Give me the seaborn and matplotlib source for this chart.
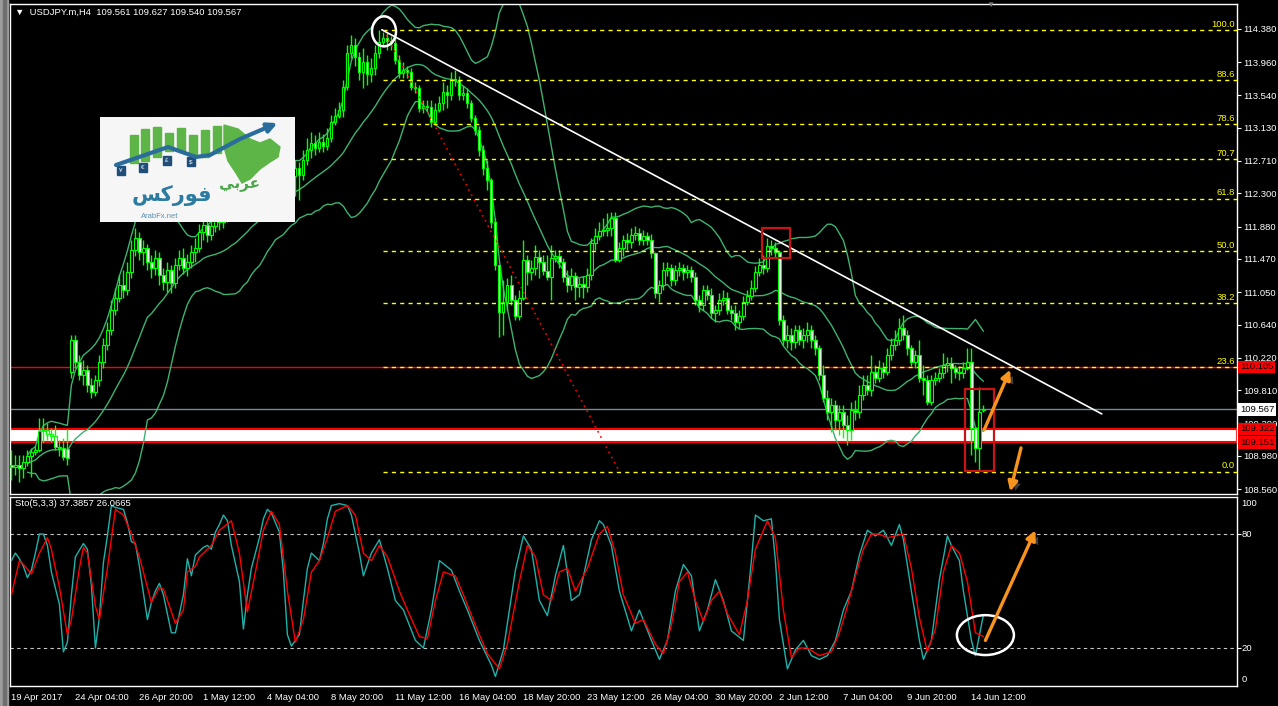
import numpy as np
import pandas as pd
import matplotlib
matplotlib.use("Agg")
import matplotlib.pyplot as plt
import matplotlib.patheffects as pe
import seaborn as sns
from matplotlib.patches import Rectangle, Ellipse, Polygon

# ---- USDJPY.m H4 candles (bar 0 = 19 Apr 2017) ----
open_ = [
    108.86, 108.84, 108.86, 108.83, 108.90, 108.98, 109.03, 109.05, 109.30, 109.31,
    109.26, 109.23, 109.09, 109.08, 109.06, 110.04, 110.44, 110.17, 110.00, 110.07,
    109.88, 109.79, 109.94, 110.17, 110.38, 110.57, 110.82, 110.98, 111.14, 111.08,
    111.31, 111.58, 111.74, 111.56, 111.61, 111.43, 111.36, 111.48, 111.27, 111.18,
    111.33, 111.17, 111.39, 111.48, 111.36, 111.43, 111.56, 111.61, 111.81, 111.90,
    111.77, 111.89, 111.99, 111.94, 112.07, 112.03, 112.15, 112.09, 112.22, 112.15,
    112.27, 112.34, 112.24, 112.37, 112.47, 112.39, 112.50, 112.44, 112.55, 112.47,
    112.60, 112.52, 112.62, 112.53, 112.72, 112.85, 112.94, 112.87, 112.95, 112.90,
    113.00, 113.20, 113.28, 113.36, 113.65, 114.08, 114.18, 114.03, 113.84, 113.96,
    113.81, 113.89, 114.08, 114.22, 114.27, 114.23, 114.20, 113.99, 113.82, 113.86,
    113.84, 113.65, 113.63, 113.38, 113.41, 113.39, 113.20, 113.36, 113.44, 113.58,
    113.55, 113.75, 113.73, 113.55, 113.57, 113.44, 113.25, 113.10, 112.85, 112.62,
    112.47, 111.94, 111.39, 110.80, 110.93, 111.14, 110.95, 110.75, 110.98, 111.46,
    111.31, 111.36, 111.50, 111.43, 111.32, 111.24, 111.48, 111.51, 111.43, 111.24,
    111.14, 111.25, 111.12, 111.15, 111.12, 111.27, 111.67, 111.76, 111.82, 111.84,
    111.86, 111.99, 111.46, 111.61, 111.71, 111.69, 111.77, 111.80, 111.71, 111.76,
    111.71, 111.55, 111.04, 111.14, 111.33, 111.36, 111.20, 111.33, 111.36, 111.31,
    111.33, 111.24, 110.95, 110.89, 111.08, 111.01, 110.79, 110.82, 110.95, 110.98,
    110.82, 110.79, 110.67, 110.75, 110.93, 111.00, 111.10, 111.31, 111.39, 111.36,
    111.63, 111.61, 111.56, 110.70, 110.44, 110.51, 110.42, 110.57, 110.44, 110.51,
    110.57, 110.44, 110.34, 110.00, 109.71, 109.53, 109.62, 109.43, 109.53, 109.37,
    109.31, 109.56, 109.53, 109.75, 109.88, 109.81, 110.04, 109.96, 110.09, 110.04,
    110.25, 110.38, 110.44, 110.60, 110.51, 110.34, 110.17, 110.25, 109.96, 109.94,
    109.66, 109.94, 109.96, 110.03, 110.13, 110.15, 110.09, 110.04, 110.03, 110.09,
    110.17, 109.33, 109.08, 109.561,
]
high = [
    109.05, 108.99, 108.99, 108.99, 109.05, 109.08, 109.10, 109.46, 109.46, 109.40,
    109.33, 109.37, 109.18, 109.21, 109.32, 110.51, 110.51, 110.25, 110.19, 110.13,
    109.96, 110.00, 110.25, 110.47, 110.67, 110.95, 111.10, 111.27, 111.33, 111.43,
    111.71, 111.86, 111.81, 111.71, 111.66, 111.52, 111.58, 111.56, 111.36, 111.43,
    111.39, 111.48, 111.58, 111.61, 111.53, 111.65, 111.74, 111.91, 112.03, 111.99,
    112.03, 112.12, 112.09, 112.15, 112.18, 112.24, 112.24, 112.32, 112.29, 112.37,
    112.47, 112.42, 112.50, 112.60, 112.57, 112.62, 112.60, 112.66, 112.66, 112.72,
    112.70, 112.72, 112.70, 112.85, 113.00, 113.08, 113.04, 113.08, 113.05, 113.13,
    113.29, 113.38, 113.46, 113.73, 114.18, 114.30, 114.27, 114.09, 114.14, 114.05,
    114.01, 114.18, 114.37, 114.34, 114.33, 114.29, 114.27, 114.05, 113.96, 113.91,
    113.89, 113.71, 113.67, 113.48, 113.48, 113.48, 113.44, 113.53, 113.71, 113.67,
    113.84, 113.86, 113.79, 113.66, 113.63, 113.48, 113.29, 113.15, 112.91, 112.72,
    112.50, 111.99, 111.39, 111.20, 111.23, 111.27, 111.01, 111.08, 111.71, 111.52,
    111.46, 111.65, 111.58, 111.52, 111.52, 111.65, 111.58, 111.58, 111.48, 111.33,
    111.36, 111.31, 111.23, 111.25, 111.36, 111.74, 111.86, 111.94, 111.99, 112.05,
    112.07, 112.07, 111.69, 111.77, 111.80, 111.86, 111.89, 111.86, 111.84, 111.81,
    111.79, 111.56, 111.20, 111.43, 111.43, 111.41, 111.39, 111.43, 111.41, 111.39,
    111.38, 111.31, 111.01, 111.14, 111.14, 111.10, 110.89, 111.04, 111.08, 111.05,
    110.89, 110.89, 110.82, 111.00, 111.08, 111.20, 111.38, 111.48, 111.52, 111.74,
    111.71, 111.69, 111.58, 110.76, 110.63, 110.60, 110.63, 110.63, 110.60, 110.67,
    110.63, 110.51, 110.38, 110.13, 109.81, 109.71, 109.69, 109.62, 109.62, 109.50,
    109.66, 109.69, 109.88, 110.00, 110.00, 110.25, 110.13, 110.19, 110.17, 110.34,
    110.47, 110.57, 110.72, 110.76, 110.57, 110.38, 110.32, 110.44, 110.13, 110.00,
    110.00, 110.04, 110.09, 110.28, 110.23, 110.23, 110.13, 110.12, 110.17, 110.34,
    110.34, 109.35, 109.85, 109.627,
]
low = [
    108.67, 108.74, 108.65, 108.70, 108.85, 108.71, 108.99, 109.03, 109.14, 109.18,
    109.16, 109.05, 108.98, 108.93, 108.86, 109.96, 110.09, 109.94, 109.88, 109.79,
    109.71, 109.74, 109.86, 110.09, 110.32, 110.51, 110.76, 110.93, 110.98, 111.01,
    111.23, 111.51, 111.46, 111.39, 111.33, 111.23, 111.27, 111.14, 111.08, 111.05,
    111.04, 111.10, 111.33, 111.28, 111.25, 111.36, 111.43, 111.56, 111.71, 111.69,
    111.71, 111.81, 111.84, 111.86, 111.94, 111.96, 112.01, 112.03, 112.07, 112.09,
    112.19, 112.15, 112.17, 112.29, 112.28, 112.32, 112.34, 112.37, 112.39, 112.39,
    112.44, 112.27, 112.22, 112.47, 112.66, 112.75, 112.79, 112.82, 112.82, 112.85,
    112.95, 113.17, 113.25, 113.27, 113.61, 114.01, 113.91, 113.73, 113.63, 113.67,
    113.71, 113.80, 114.01, 114.17, 114.11, 114.11, 113.94, 113.76, 113.76, 113.76,
    113.61, 113.57, 113.33, 113.32, 113.33, 113.14, 113.18, 113.33, 113.36, 113.38,
    113.48, 113.66, 113.48, 113.48, 113.38, 113.20, 113.04, 112.77, 112.53, 112.34,
    111.86, 111.33, 110.48, 110.51, 110.82, 110.89, 110.70, 110.70, 110.95, 111.14,
    111.20, 111.27, 111.23, 111.27, 111.20, 110.95, 111.43, 111.36, 111.18, 111.05,
    111.08, 110.95, 110.99, 110.98, 111.05, 111.20, 111.58, 111.71, 111.76, 111.76,
    111.76, 111.43, 111.43, 111.51, 111.58, 111.61, 111.71, 111.65, 111.65, 111.65,
    111.48, 110.98, 110.93, 111.08, 111.25, 111.13, 111.14, 111.25, 111.20, 111.23,
    111.18, 110.89, 110.80, 110.82, 110.95, 110.72, 110.67, 110.76, 110.89, 110.77,
    110.70, 110.57, 110.60, 110.70, 110.89, 110.95, 111.05, 111.25, 111.28, 111.31,
    111.52, 111.48, 110.63, 110.38, 110.34, 110.32, 110.34, 110.38, 110.34, 110.42,
    110.34, 110.25, 109.94, 109.66, 109.43, 109.28, 109.31, 109.24, 109.21, 109.12,
    109.18, 109.43, 109.46, 109.69, 109.75, 109.74, 109.90, 109.92, 109.96, 110.00,
    110.19, 110.32, 110.38, 110.44, 110.25, 110.12, 110.09, 109.92, 109.75, 109.62,
    109.62, 109.88, 109.92, 109.96, 110.04, 109.90, 109.96, 109.94, 109.96, 110.07,
    108.99, 108.90, 108.80, 109.540,
]
close = [
    108.84, 108.86, 108.83, 108.90, 108.98, 109.03, 109.05, 109.30, 109.31, 109.26,
    109.23, 109.09, 109.08, 108.97, 108.95, 110.44, 110.17, 110.00, 110.07, 109.88,
    109.79, 109.94, 110.17, 110.38, 110.57, 110.82, 110.98, 111.14, 111.08, 111.31,
    111.58, 111.74, 111.56, 111.61, 111.43, 111.36, 111.48, 111.27, 111.18, 111.33,
    111.17, 111.39, 111.48, 111.36, 111.43, 111.56, 111.61, 111.81, 111.90, 111.77,
    111.89, 111.99, 111.94, 112.07, 112.03, 112.15, 112.09, 112.22, 112.15, 112.27,
    112.34, 112.24, 112.37, 112.47, 112.39, 112.50, 112.44, 112.55, 112.47, 112.60,
    112.52, 112.62, 112.53, 112.72, 112.85, 112.94, 112.87, 112.95, 112.90, 113.00,
    113.20, 113.28, 113.36, 113.65, 114.08, 114.18, 114.03, 113.84, 113.96, 113.81,
    113.89, 114.08, 114.22, 114.27, 114.23, 114.20, 113.99, 113.82, 113.86, 113.84,
    113.65, 113.63, 113.38, 113.41, 113.39, 113.20, 113.36, 113.44, 113.58, 113.55,
    113.75, 113.73, 113.55, 113.57, 113.44, 113.25, 113.10, 112.85, 112.62, 112.47,
    111.94, 111.39, 110.80, 110.93, 111.14, 110.95, 110.75, 110.98, 111.46, 111.31,
    111.36, 111.50, 111.43, 111.32, 111.24, 111.48, 111.51, 111.43, 111.24, 111.14,
    111.25, 111.12, 111.15, 111.12, 111.27, 111.67, 111.76, 111.82, 111.84, 111.86,
    111.99, 111.46, 111.61, 111.71, 111.69, 111.77, 111.80, 111.71, 111.76, 111.71,
    111.55, 111.04, 111.14, 111.33, 111.36, 111.20, 111.33, 111.36, 111.31, 111.33,
    111.24, 110.95, 110.89, 111.08, 111.01, 110.79, 110.82, 110.95, 110.98, 110.82,
    110.79, 110.67, 110.75, 110.93, 111.00, 111.10, 111.31, 111.39, 111.36, 111.63,
    111.61, 111.56, 110.70, 110.44, 110.51, 110.42, 110.57, 110.44, 110.51, 110.57,
    110.44, 110.34, 110.00, 109.71, 109.53, 109.62, 109.43, 109.53, 109.37, 109.31,
    109.56, 109.53, 109.75, 109.88, 109.81, 110.04, 109.96, 110.09, 110.04, 110.25,
    110.38, 110.44, 110.60, 110.51, 110.34, 110.17, 110.25, 109.96, 109.94, 109.66,
    109.94, 109.96, 110.03, 110.13, 110.15, 110.09, 110.04, 110.03, 110.09, 110.17,
    109.33, 109.08, 109.53, 109.567,
]

# ---- Stochastic(5,3,3) ----
stoch_k_bar = [0, 1, 2, 3, 4, 5, 6, 7, 8, 9,
               10, 12, 13, 14, 15, 16, 18, 19, 20, 21,
               22, 23, 24, 25, 26, 28, 29, 30, 31, 32,
               34, 35, 36, 37, 38, 40, 41, 43, 44, 45,
               46, 48, 49, 50, 51, 52, 53, 54, 55, 57,
               58, 59, 60, 62, 63, 64, 65, 67, 68, 69,
               70, 72, 73, 74, 75, 77, 78, 79, 80, 82,
               84, 85, 87, 88, 90, 92, 94, 96, 98, 101,
               103, 105, 107, 110, 112, 114, 117, 120, 121, 123,
               126, 128, 130, 132, 134, 136, 138, 140, 142, 145,
               147, 148, 150, 152, 155, 157, 160, 162, 164, 166,
               168, 170, 172, 174, 176, 178, 180, 183, 185, 186,
               188, 190, 191, 192, 194, 196, 198, 200, 202, 204,
               206, 208, 210, 212, 214, 216, 218, 220, 222, 223,
               225, 227, 228, 230, 232, 234, 235, 237, 238, 240,
               241, 243]
stoch_k = [66, 70, 67, 63, 57, 61, 70, 80, 80, 74,
           60, 43, 18, 23, 48, 68, 75, 72, 53, 20,
           36, 65, 79, 95, 94, 93, 86, 76, 75, 63,
           35, 44, 50, 54, 48, 28, 28, 48, 67, 58,
           69, 73, 74, 72, 81, 85, 90, 87, 74, 55,
           30, 48, 62, 78, 88, 93, 91, 81, 60, 27,
           21, 27, 45, 62, 70, 66, 75, 88, 95, 96,
           95, 90, 70, 58, 70, 77, 62, 45, 40, 24,
           20, 40, 66, 61, 50, 40, 24, 11, 5, 19,
           61, 79, 72, 45, 37, 58, 74, 45, 48, 77,
           87, 85, 74, 50, 29, 40, 24, 14, 24, 50,
           64, 58, 29, 40, 56, 45, 29, 24, 66, 90,
           87, 88, 66, 35, 9, 19, 24, 16, 14, 16,
           24, 40, 50, 69, 82, 79, 82, 74, 85, 77,
           50, 24, 14, 24, 56, 79, 74, 66, 50, 24,
           16, 37.39]
stoch_d_bar = [0, 2, 3, 5, 7, 9, 10, 12, 14, 15,
               17, 18, 19, 21, 22, 24, 26, 28, 30, 32,
               35, 37, 38, 41, 43, 44, 46, 47, 50, 52,
               55, 57, 59, 61, 63, 65, 67, 69, 71, 73,
               75, 77, 79, 81, 84, 86, 88, 90, 92, 94,
               97, 99, 102, 104, 106, 108, 111, 113, 116, 119,
               122, 124, 127, 129, 131, 133, 135, 137, 139, 141,
               144, 147, 149, 151, 153, 156, 158, 161, 163, 165,
               167, 169, 171, 173, 175, 177, 179, 182, 184, 186,
               189, 191, 193, 195, 197, 199, 202, 205, 207, 209,
               211, 213, 215, 217, 219, 221, 223, 225, 227, 229,
               231, 233, 235, 237, 239, 241, 243]
stoch_d = [48, 66, 64, 59, 70, 78, 72, 52, 27, 35,
           62, 73, 70, 42, 35, 62, 93, 90, 80, 68,
           44, 52, 51, 33, 40, 60, 63, 68, 74, 82,
           87, 70, 39, 60, 82, 92, 85, 50, 23, 35,
           60, 66, 78, 92, 95, 90, 70, 66, 74, 68,
           50, 40, 26, 25, 45, 60, 58, 48, 32, 17,
           9, 22, 55, 74, 68, 48, 45, 60, 62, 50,
           62, 80, 84, 70, 48, 33, 35, 22, 17, 32,
           55, 60, 45, 34, 45, 50, 38, 27, 45, 72,
           87, 78, 40, 15, 20, 20, 16, 18, 28, 42,
           58, 72, 80, 80, 78, 79, 80, 62, 36, 18,
           30, 60, 74, 70, 55, 28, 26.07]

price_ticks = [114.380, 113.960, 113.540, 113.130, 112.710, 112.300, 111.880, 111.470,
               111.050, 110.640, 110.220, 109.810, 109.390, 108.980, 108.560]
date_tick_bars = [0, 16, 32, 48, 64, 80, 96, 112, 128, 144, 160, 176, 192, 208, 224, 240]
date_labels = ["19 Apr 2017", "24 Apr 04:00", "26 Apr 20:00", "1 May 12:00", "4 May 04:00",
               "8 May 20:00", "11 May 12:00", "16 May 04:00", "18 May 20:00", "23 May 12:00",
               "26 May 04:00", "30 May 20:00", "2 Jun 12:00", "7 Jun 04:00", "9 Jun 20:00",
               "14 Jun 12:00"]

# drawn objects
fib_ratios = [0.0, 0.236, 0.382, 0.5, 0.618, 0.707, 0.786, 0.886, 1.0]
fib_bars = [93, 152]
fib_prices = [114.37, 108.78]
trend_bars = [92.6, 272.6]
trend_prices = [114.37, 109.51]
hline_red = 110.105
bid = 109.567
zone = [109.151, 109.322]

LIME = "#00FF00"
BB = "#3CB371"

sns.set_style("dark", {"axes.facecolor": "black", "figure.facecolor": "black"})
plt.rcParams["font.family"] = ["Liberation Sans", "DejaVu Sans"]

W, H = 1278, 706
fig = plt.figure(figsize=(W / 100, H / 100), dpi=100, facecolor="black")


def px_box(x0, y0, x1, y1):
    return [x0 / W, 1 - y1 / H, (x1 - x0) / W, (y1 - y0) / H]


ax = fig.add_axes(px_box(10, 4, 1237, 494))
ax_st = fig.add_axes(px_box(10, 497, 1237, 686))
XMIN, XMAX = -0.35, 306.4

for a in (ax, ax_st):
    a.set_facecolor("black")
    a.grid(False)
    a.set_xlim(XMIN, XMAX)
    for sp in a.spines.values():
        sp.set_visible(True)
        sp.set_color("white")
        sp.set_linewidth(1)

# window border on the left
fig.patches.append(Rectangle((0, 0), 8 / W, 1, transform=fig.transFigure, color="#9c9c9c"))
fig.patches.append(Rectangle((3 / W, 0), 3 / W, 1, transform=fig.transFigure, color="#6e6e6e"))

# ---------------- main price panel ----------------
bars = np.arange(len(close))
o = np.array(open_)
c = np.array(close)

ax.axhspan(zone[0], zone[1], facecolor="white", edgecolor="#FF0000", lw=1.5, zorder=1)
ax.axhline(hline_red, color="#FF0000", lw=1, zorder=1)
ax.axhline(bid, color="#778899", lw=1, zorder=1)

s = pd.Series(close)
mid = s.rolling(20, min_periods=5).mean()
sd = s.rolling(20, min_periods=5).std(ddof=0)
for band in (mid, mid + 2 * sd, mid - 2 * sd):
    sns.lineplot(x=bars, y=band.values, ax=ax, color=BB, linewidth=1, zorder=2)

ax.vlines(bars, low, high, color=LIME, lw=1, zorder=3)
ax.bar(bars, c - o, bottom=o, width=0.55,
       color=np.where(c >= o, "black", "white"), edgecolor=LIME, linewidth=0.8, zorder=4)

# fibonacci
f_lo, f_hi = fib_prices[1], fib_prices[0]
for r in fib_ratios:
    lvl = f_lo + r * (f_hi - f_lo)
    ax.hlines(lvl, fib_bars[0], XMAX, colors="#FFFF00", linestyles=(0, (3, 3)), lw=1, zorder=5)
    ax.text(305.8, lvl + 0.015, f"{r * 100:.1f}", color="#FFFF00", fontsize=6.8,
            ha="right", va="bottom", zorder=6)
ax.plot(fib_bars, fib_prices, color="#FF0000", ls=(0, (1, 2.5)), lw=1.2, zorder=5)

ax.plot(trend_bars, trend_prices, color="white", lw=1.2, zorder=6)

for x0, p0, w, h in [(187.6, 111.48, 7.0, 0.38), (238.4, 108.79, 7.2, 1.03)]:
    ax.add_patch(Rectangle((x0, p0), w, h, fill=False, edgecolor="#C81414", lw=1.6, zorder=7))
ax.add_patch(Ellipse((93.15, 114.35), 6.0, 0.38, fill=False, edgecolor="white", lw=1.8, zorder=7))

arrow = dict(arrowstyle="-|>", color="#F7941D", lw=2.4, mutation_scale=14, shrinkA=0, shrinkB=0)
shadow = [pe.SimplePatchShadow(offset=(3, -2), shadow_rgbFace="#666666", alpha=0.6), pe.Normal()]
for tip, tail in [((249.7, 110.07), (243.2, 109.31)), ((249.7, 108.53), (252.4, 109.08))]:
    an = ax.annotate("", xy=tip, xytext=tail, arrowprops=arrow, zorder=8)
    an.arrow_patch.set_path_effects(shadow)

ax.set_ylim(108.497, 114.696)
ax.set_xticks([])
ax.yaxis.tick_right()
ax.set_yticks(price_ticks)
ax.set_yticklabels([f"{v:.3f}" for v in price_ticks])
ax.tick_params(axis="y", colors="white", labelcolor="white", labelsize=6.8, length=3, pad=1.5)

for val, bg, fg in [(hline_red, "#FF0000", "black"), (bid, "white", "black"),
                    (zone[1], "#FF0000", "black"), (zone[0], "#FF0000", "black")]:
    ax.text(1.0025, val, f"{val:.3f}", transform=ax.get_yaxis_transform(), ha="left",
            va="center", fontsize=6.8, color=fg, clip_on=False, zorder=10,
            bbox=dict(boxstyle="square,pad=0.18", fc=bg, ec="none"))

# ---------------- stochastic panel ----------------
ax_st.axhline(80, color="#C8C8C8", ls=(0, (3, 3)), lw=0.8)
ax_st.axhline(20, color="#C8C8C8", ls=(0, (3, 3)), lw=0.8)
sns.lineplot(x=stoch_k_bar, y=stoch_k, ax=ax_st, color="#20B2AA", linewidth=1, zorder=3)
sns.lineplot(x=stoch_d_bar, y=stoch_d, ax=ax_st, color="#FF0000", linewidth=1, zorder=4)
ax_st.add_patch(Ellipse((243.5, 26.8), 14.25, 21, fill=False, edgecolor="white", lw=1.8, zorder=6))
an = ax_st.annotate("", xy=(256.0, 82), xytext=(243.5, 24), arrowprops=arrow, zorder=8)
an.arrow_patch.set_path_effects(shadow)

ax_st.set_ylim(0, 99.5)
ax_st.yaxis.tick_right()
ax_st.set_yticks([20, 80])
ax_st.set_yticklabels([])
ax_st.tick_params(axis="y", colors="white", length=3)
for v, y in [("100", 96.3), ("80", 80), ("20", 20), ("0", 3.2)]:
    ax_st.text(1.0035, y, v, transform=ax_st.get_yaxis_transform(), color="white",
               fontsize=6.8, ha="left", va="center", clip_on=False)

ax_st.set_xticks(date_tick_bars)
ax_st.set_xticklabels(date_labels, ha="left", fontsize=6.8, color="white")
ax_st.tick_params(axis="x", colors="white", labelcolor="white", direction="out", length=3, pad=2)

# ---------------- header texts ----------------
fig.text(15 / W, 1 - 12 / H, "\u25bc  USDJPY.m,H4  109.561 109.627 109.540 109.567",
         color="white", fontsize=6.8, va="center")
fig.text(15 / W, 1 - 503 / H, "Sto(5,3,3) 37.3857 26.0665", color="white", fontsize=6.8,
         va="center")
fig.text(990 / W, 1 - 5 / H, "\u25bc", color="#808080", fontsize=6, ha="center", va="center")

# ---------------- logo ----------------
lg = fig.add_axes(px_box(100, 117, 295, 222), zorder=20)
lg.set_xlim(0, 195)
lg.set_ylim(105, 0)
lg.set_axis_off()
lg.add_patch(Rectangle((0, 0), 195, 105, color="#F6F6F6"))
col_x = [30, 41, 53, 65, 77, 89, 101, 113]
col_top = [18, 12, 10, 16, 11, 18, 13, 9]
col_bot = [46, 44, 40, 34, 34, 38, 40, 36]
for x0, t, b in zip(col_x, col_top, col_bot):
    lg.add_patch(Rectangle((x0, t), 8, b - t, color="#5DB548"))
lg.add_patch(Polygon([(124, 8), (138, 12), (150, 22), (160, 26), (170, 22), (180, 30), (178, 40),
                      (170, 45), (160, 52), (150, 62), (142, 66), (136, 56), (128, 44), (124, 30)],
                     color="#5DB548"))
lg.plot([16, 45, 68, 96, 110, 140, 168], [48, 38, 30, 40, 38, 22, 10], color="#2A6D9C", lw=3,
        solid_capstyle="round")
lg.annotate("", xy=(180, 5), xytext=(166, 11),
            arrowprops=dict(arrowstyle="-|>", color="#2A6D9C", lw=3, mutation_scale=14))
for (x0, y0), sym in zip([(17, 49), (39, 46), (63, 39), (87, 40)], ["\u00a5", "\u20ac", "\u00a3", "$"]):
    lg.add_patch(Rectangle((x0, y0), 8, 9, color="#1F4E79"))
    lg.text(x0 + 4, y0 + 4.5, sym, color="white", fontsize=4.5, ha="center", va="center")
lg.text(72, 79, "\ufeb2\ufedb\ufead\ufeee\ufed3", color="#2C7BA0", fontsize=15, ha="center",
        va="center", family=["DejaVu Sans"], fontweight="bold")
lg.text(140, 68, "\ufef2\ufe91\ufeae\ufecb", color="#49A548", fontsize=11, ha="center",
        va="center", family=["DejaVu Sans"], fontweight="bold")
lg.text(60, 99, "ArabFx.net", color="#5A8FB0", fontsize=5.5, ha="center", va="center")

fig.savefig("out.png", dpi=100, facecolor="black")
